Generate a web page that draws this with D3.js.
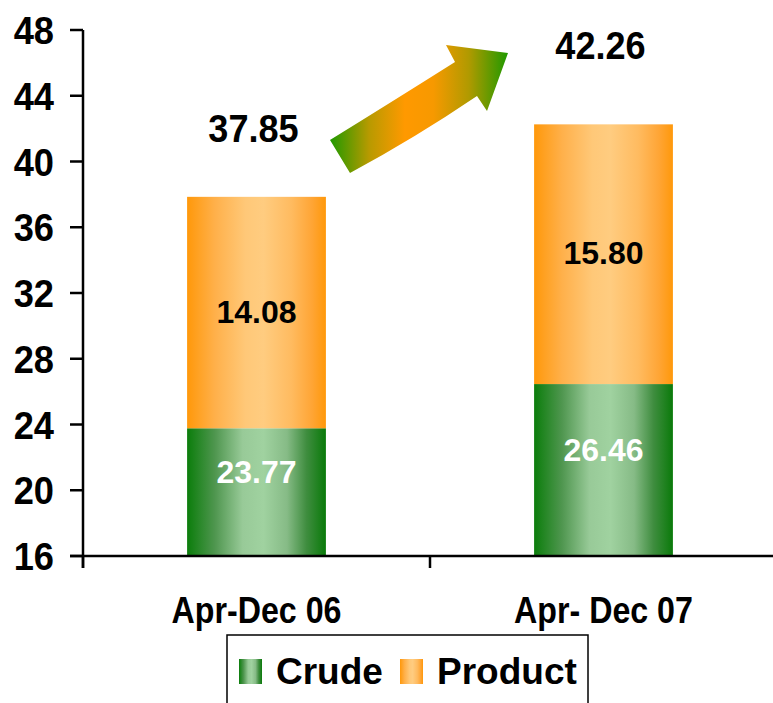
<!DOCTYPE html>
<html>
<head>
<meta charset="utf-8">
<script src="https://cdn.jsdelivr.net/npm/d3@7"></script>
<style>
  body { margin: 0; background: #fff; }
  text { font-family: "Liberation Sans", Arial, sans-serif; font-weight: bold; }
</style>
</head>
<body>
<script>
// data
const categories = ['Apr-Dec 06', 'Apr- Dec 07']
const crude = [23.77, 26.46]
const product = [14.08, 15.80]
const yTicks = [16, 20, 24, 28, 32, 36, 40, 44, 48]
const seriesNames = ['Crude', 'Product']

const rows = categories.map((c, i) => ({ cat: c, Crude: crude[i], Product: product[i] }))
const totals = rows.map(d => d.Crude + d.Product)

const svg = d3.select('body').append('svg')
  .attr('width', 773)
  .attr('height', 703)

const y = d3.scaleLinear().domain([16, 48]).range([556, 30])
const x = d3.scaleBand().domain(categories).range([83, 777])
  .paddingInner(0.6).paddingOuter(0.3)

const defs = svg.append('defs')
function barGrad(id, stops) {
  let g = defs.append('linearGradient').attr('id', id)
    .attr('x1', 0).attr('x2', 1).attr('y1', 0).attr('y2', 0)
  stops.forEach(s => g.append('stop').attr('offset', s[0]).attr('stop-color', s[1]))
}
barGrad('gCrude', [[0, '#0b7d0b'], [0.2, '#4f964f'], [0.4, '#98ca98'], [0.55, '#a0d2a0'], [0.72, '#86bb86'], [0.86, '#3f8d3f'], [1, '#0a7a0a']])
barGrad('gProduct', [[0, '#ff980a'], [0.2, '#ffb04a'], [0.42, '#ffc878'], [0.55, '#ffcc80'], [0.75, '#ffbb60'], [0.9, '#ffa535'], [1, '#ff980a']])
const colors = { Crude: 'url(#gCrude)', Product: 'url(#gProduct)' }

const stacked = d3.stack().keys(seriesNames)(rows)

// bars
svg.append('g').selectAll('g')
  .data(stacked)
  .join('g')
  .attr('fill', d => colors[d.key])
  .selectAll('rect')
  .data(d => d)
  .join('rect')
  .attr('x', d => x(d.data.cat))
  .attr('width', x.bandwidth())
  .attr('y', d => y(d[1]))
  .attr('height', d => y(Math.max(d[0], 16)) - y(d[1]))

// axes
const axis = svg.append('g').attr('stroke', '#000').attr('stroke-width', 2.5)
axis.append('line').attr('x1', 83).attr('x2', 83).attr('y1', y(48)).attr('y2', 568)
axis.selectAll('.yt').data(yTicks).join('line')
  .attr('x1', 70).attr('x2', 83)
  .attr('y1', d => y(d)).attr('y2', d => y(d))
axis.append('line').attr('x1', 70).attr('x2', 777).attr('y1', y(16)).attr('y2', y(16))
axis.selectAll('.xt').data(d3.range(categories.length + 1)).join('line')
  .attr('x1', i => x.range()[0] + i * x.step())
  .attr('x2', i => x.range()[0] + i * x.step())
  .attr('y1', y(16)).attr('y2', 568)

svg.append('g').selectAll('text')
  .data(yTicks)
  .join('text')
  .attr('transform', d => `translate(54,${y(d) + 14}) scale(0.93,1)`)
  .attr('text-anchor', 'end')
  .attr('font-size', 39)
  .text(d => d)

// category labels
svg.append('g').selectAll('text')
  .data(categories)
  .join('text')
  .attr('transform', d => `translate(${x(d) + x.bandwidth() / 2},623) scale(0.87,1)`)
  .attr('text-anchor', 'middle')
  .attr('font-size', 37)
  .text(d => d)

// inner labels
svg.append('g').selectAll('text')
  .data(rows)
  .join('text')
  .attr('x', d => x(d.cat) + x.bandwidth() / 2)
  .attr('y', d => (y(16) + y(d.Crude)) / 2 - 9)
  .attr('text-anchor', 'middle')
  .attr('font-size', 32)
  .attr('fill', '#fff')
  .text(d => d.Crude.toFixed(2))

svg.append('g').selectAll('text')
  .data(rows)
  .join('text')
  .attr('x', d => x(d.cat) + x.bandwidth() / 2)
  .attr('y', d => (y(d.Crude) + y(d.Crude + d.Product)) / 2 + 10)
  .attr('text-anchor', 'middle')
  .attr('font-size', 32)
  .attr('fill', '#000')
  .text(d => d.Product.toFixed(2))

// totals
svg.append('g').selectAll('text')
  .data(totals)
  .join('text')
  .attr('transform', (d, i) => `translate(${x(categories[i]) + x.bandwidth() / 2 - 3},${y(d) - (i ? 65 : 55)}) scale(0.95,1)`)
  .attr('text-anchor', 'middle')
  .attr('font-size', 38)
  .text(d => d.toFixed(2))

// arrow
let ag = defs.append('linearGradient').attr('id', 'gArrow')
  .attr('gradientUnits', 'userSpaceOnUse')
  .attr('x1', 330).attr('x2', 508).attr('y1', 0).attr('y2', 0)
;[[0, '#1f9900'], [0.22, '#b89a00'], [0.42, '#ff9900'], [0.58, '#f79900'], [0.78, '#b09a00'], [1, '#1f9900']]
  .forEach(s => ag.append('stop').attr('offset', s[0]).attr('stop-color', s[1]))
svg.append('path')
  .attr('d', 'M330,140 Q390,103 455,62 L446,45 L508,53 L487,111 L477,96 Q415,138 350,173 Z')
  .attr('fill', 'url(#gArrow)')

// legend
const lg = svg.append('g')
lg.append('rect').attr('x', 227).attr('y', 635).attr('width', 361).attr('height', 90)
  .attr('fill', 'none').attr('stroke', '#000').attr('stroke-width', 1.5)
const legendX = [239, 400]
const items = lg.selectAll('.legends').data(seriesNames).join('g')
  .attr('transform', (d, i) => `translate(${legendX[i]},659)`)
items.append('rect').attr('width', 23).attr('height', 25).attr('fill', d => colors[d])
items.append('text').attr('x', 37).attr('y', 25).attr('font-size', 37).text(d => d)
</script>
</body>
</html>
